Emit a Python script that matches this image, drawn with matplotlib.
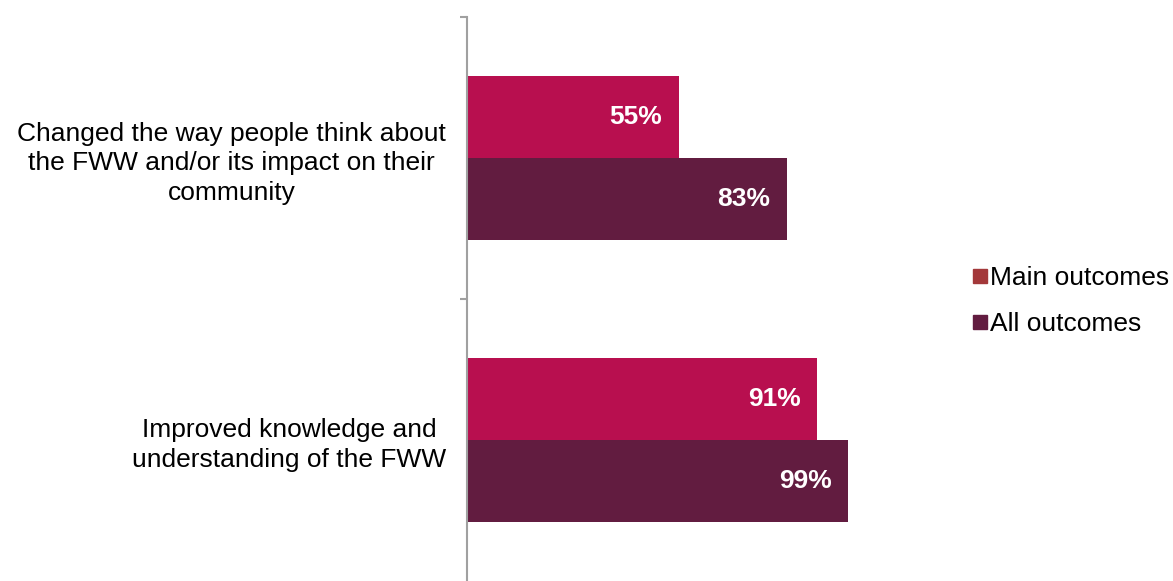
import matplotlib.pyplot as plt
from matplotlib.lines import Line2D
import numpy as np

plt.rcParams['font.family'] = ['Liberation Sans', 'DejaVu Sans']

categories = ['Improved knowledge and\nunderstanding of the FWW',
              'Changed the way people think about\nthe FWW and/or its impact on their\ncommunity']
main_outcomes = [91, 55]
all_outcomes = [99, 83]
series_names = ['Main outcomes', 'All outcomes']

bar_main = '#B80F4F'
bar_all = '#621C40'
legend_main = '#A3383A'
legend_all = '#621C40'

W, H = 1173, 581
fig = plt.figure(figsize=(W / 100, H / 100), dpi=100)
ax = fig.add_axes([467 / W, 0, (852 - 467) / W, (H - 17) / H])

y = np.arange(len(categories))
h = 0.29
ax.barh(y + h / 2, main_outcomes, height=h, color=bar_main)
ax.barh(y - h / 2, all_outcomes, height=h, color=bar_all)

for yy, v in zip(y + h / 2, main_outcomes):
    ax.text(v - 4.3, yy, f'{v}%', ha='right', va='center', color='white',
            fontsize=19, fontweight='bold')
for yy, v in zip(y - h / 2, all_outcomes):
    ax.text(v - 4.3, yy, f'{v}%', ha='right', va='center', color='white',
            fontsize=19, fontweight='bold')

ax.set_xlim(0, 100)
ax.set_ylim(-0.5, 1.5)
ax.set_xticks([])
ax.set_yticks(y)
ax.set_yticklabels(categories, fontsize=19, multialignment='center',
                   linespacing=1.3)
# separators between the category bands (bottom one falls off the canvas)
ax.set_yticks([0.5, 1.5], minor=True)
ax.tick_params(axis='y', which='major', length=0, pad=15)
ax.tick_params(axis='y', which='minor', length=5, color='#A0A0A0', width=1.5)
for s in ['top', 'right', 'bottom']:
    ax.spines[s].set_visible(False)
ax.spines['left'].set_color('#A0A0A0')
ax.spines['left'].set_linewidth(1.5)

handles = [Line2D([], [], marker='s', linestyle='', color=c, markersize=9.5)
           for c in (legend_main, legend_all)]
fig.legend(handles, series_names, loc='center left',
           bbox_to_anchor=(954 / W, 1 - 301 / H), frameon=False,
           fontsize=19, handletextpad=-0.15, labelspacing=0.85,
           handlelength=1.0, borderpad=0)

fig.savefig('out.png', dpi=100)
